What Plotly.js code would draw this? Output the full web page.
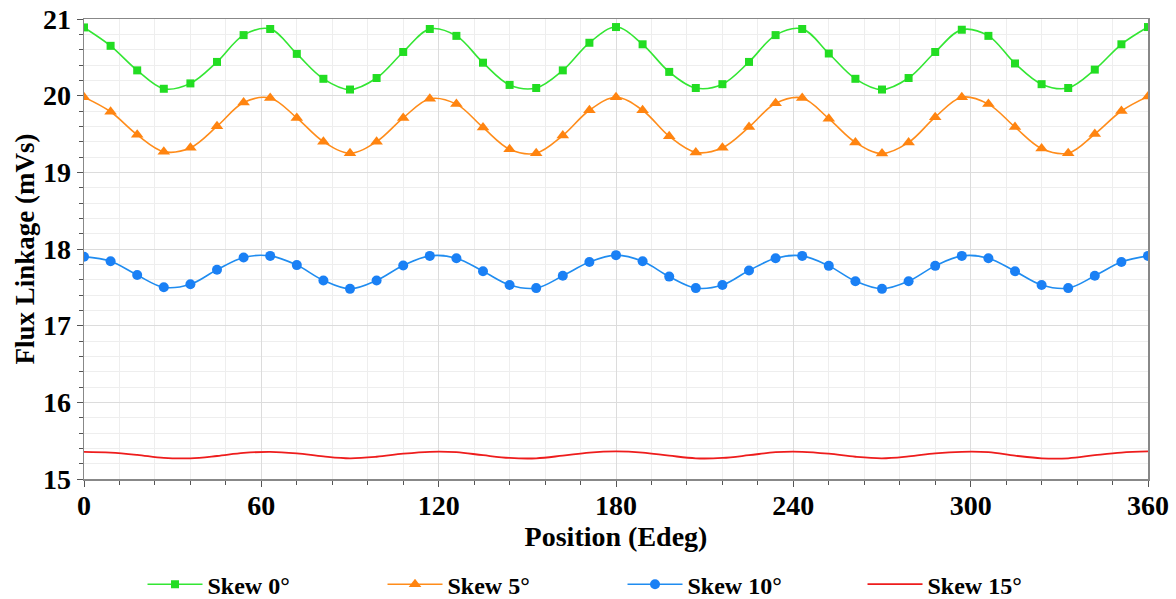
<!DOCTYPE html>
<html>
<head>
<meta charset="utf-8">
<script src="https://cdn.plot.ly/plotly-3.0.1.min.js"></script>
<style>html,body{margin:0;padding:0;background:#fff;}#chart{width:1176px;height:599px;}</style>
</head>
<body>
<div id="chart"></div>
<script>
const positions = [0,9,18,27,36,45,54,63,72,81,90,99,108,117,126,135,144,153,162,171,180,189,198,207,216,225,234,243,252,261,270,279,288,297,306,315,324,333,342,351,360];

const skew0 = [20.89,20.65,20.33,20.09,20.16,20.44,20.79,20.87,20.545,20.22,20.08,20.23,20.57,20.87,20.78,20.43,20.14,20.10,20.33,20.69,20.895,20.67,20.31,20.10,20.15,20.44,20.79,20.87,20.55,20.22,20.08,20.23,20.57,20.86,20.78,20.42,20.15,20.10,20.34,20.67,20.895];

const skew5 = [19.98,19.79,19.49,19.27,19.32,19.60,19.91,19.97,19.71,19.40,19.25,19.40,19.71,19.96,19.89,19.585,19.30,19.25,19.48,19.81,19.98,19.81,19.47,19.26,19.32,19.59,19.90,19.97,19.70,19.39,19.245,19.39,19.72,19.98,19.89,19.59,19.31,19.25,19.50,19.80,19.99];

const skew10 = [17.90,17.84,17.66,17.50,17.54,17.73,17.89,17.91,17.79,17.59,17.48,17.59,17.785,17.91,17.88,17.71,17.53,17.49,17.65,17.83,17.92,17.84,17.64,17.49,17.53,17.72,17.88,17.91,17.78,17.58,17.48,17.58,17.78,17.91,17.88,17.71,17.53,17.49,17.65,17.83,17.91];

const skew15 = [15.355,15.345,15.315,15.275,15.27,15.30,15.34,15.355,15.335,15.295,15.27,15.29,15.33,15.355,15.35,15.31,15.275,15.27,15.305,15.345,15.36,15.345,15.305,15.27,15.275,15.31,15.35,15.355,15.33,15.29,15.27,15.295,15.335,15.355,15.35,15.305,15.27,15.27,15.31,15.345,15.36];

const seriesNames = ['Skew 0°','Skew 5°','Skew 10°','Skew 15°'];

const FONT = 'Liberation Serif, Times New Roman, serif';

const traces = [
  {x: positions, y: skew0, name: seriesNames[0], mode: 'lines+markers',
   line: {color: '#33e633', width: 1.6, shape: 'spline'},
   marker: {symbol: 'square', size: 8, color: '#22dd22'}},
  {x: positions, y: skew5, name: seriesNames[1], mode: 'lines+markers',
   line: {color: '#ff8c1a', width: 1.6, shape: 'spline'},
   marker: {symbol: 'triangle-up', size: 11, color: '#ff8410'}},
  {x: positions, y: skew10, name: seriesNames[2], mode: 'lines+markers',
   line: {color: '#1f8cf0', width: 1.6, shape: 'spline'},
   marker: {symbol: 'circle', size: 10, color: '#1a80f5'}},
  {x: positions, y: skew15, name: seriesNames[3], mode: 'lines',
   line: {color: '#ee1c1c', width: 1.8, shape: 'spline'}}
];

const layout = {
  width: 1176, height: 599,
  margin: {l: 84, r: 28, t: 19, b: 120, autoexpand: false},
  paper_bgcolor: '#ffffff', plot_bgcolor: '#ffffff',
  font: {family: FONT, color: '#000', size: 28, weight: 'bold'},
  showlegend: true,
  legend: {orientation: 'h', x: 0.055, xanchor: 'left',
    yref: 'container', y: 0.024, yanchor: 'middle',
    itemwidth: 55, entrywidth: 170, entrywidthmode: 'pixels',
    font: {family: FONT, size: 24, color: '#000', weight: 'bold'}},
  xaxis: {
    range: [0, 360], dtick: 60, tick0: 0, automargin: false,
    showline: true, linecolor: '#888', linewidth: 1.5, mirror: true,
    ticks: 'outside', ticklen: 6, tickcolor: '#555', ticklabelstandoff: -5,
    showgrid: true, gridcolor: '#dcdcdc', gridwidth: 1,
    zeroline: false,
    tickfont: {family: FONT, size: 28, color: '#000', weight: 'bold'},
    minor: {dtick: 12, tick0: 0, showgrid: true, gridcolor: '#eeeeee', gridwidth: 1, ticks: 'outside', ticklen: 4, tickcolor: '#555'},
    title: {text: 'Position (Edeg)', standoff: 0, font: {family: FONT, size: 28, color: '#000', weight: 'bold'}}
  },
  yaxis: {
    range: [15, 21], dtick: 1, tick0: 15, automargin: false,
    showline: true, linecolor: '#888', linewidth: 1.5, mirror: true,
    ticks: 'outside', ticklen: 6, tickcolor: '#555',
    showgrid: true, gridcolor: '#dcdcdc', gridwidth: 1,
    zeroline: false,
    tickfont: {family: FONT, size: 28, color: '#000', weight: 'bold'},
    minor: {dtick: 0.2, tick0: 15, showgrid: true, gridcolor: '#eeeeee', gridwidth: 1, ticks: 'outside', ticklen: 4, tickcolor: '#555'},
    title: {text: 'Flux Linkage (mVs)', standoff: 0, font: {family: FONT, size: 27, color: '#000', weight: 'bold'}}
  }
};

Plotly.newPlot('chart', traces, layout, {displayModeBar: false, staticPlot: true});
</script>
</body>
</html>
